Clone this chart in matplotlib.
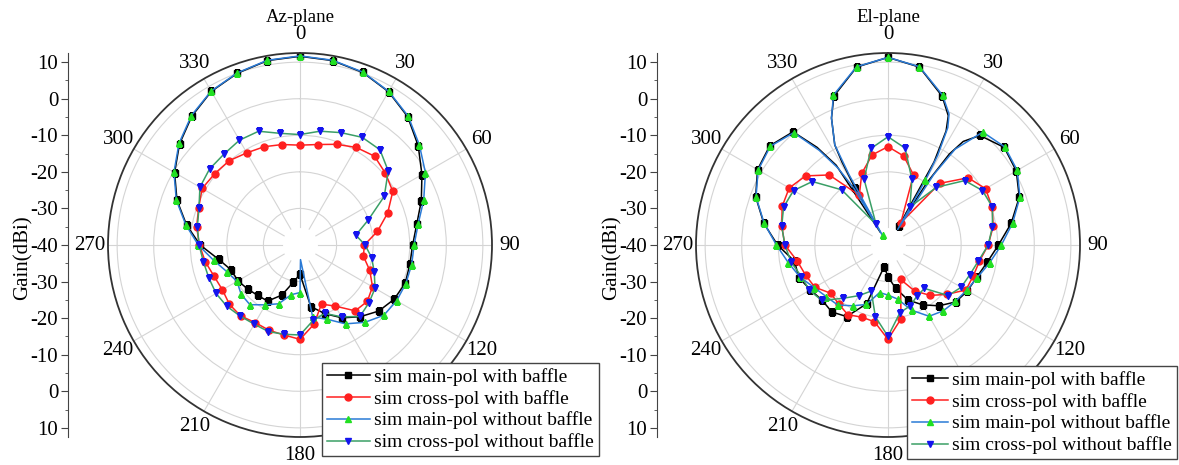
import numpy as np
import matplotlib.pyplot as plt
from matplotlib.ticker import FixedLocator, MultipleLocator

plt.rcParams['font.family'] = ['Liberation Serif', 'DejaVu Serif']

W, H = 1179, 465
ANGLES = list(range(0, 360, 10))
THETA_TICKS = list(range(0, 360, 30))
THETA_LABELS = ['0', '30', '60', '90', '120', '', '180', '210', '240', '270', '300', '330']
GAIN_TICKS = list(range(-50, 51, 10))

LABELS = ['sim main-pol with baffle', 'sim cross-pol with baffle',
          'sim main-pol without baffle', 'sim cross-pol without baffle']

# Az-plane, gain (dBi) every 10 deg, 0..350
AZ_MAIN_WITH = [11.6, 11.2, 10.2, 8.4, 5.8, 2.2, -1.5, -4.7, -7.6, -9.2,
                -9.5, -9.4, -10.3, -11.9, -14.4, -17.0, -20.0, -22.9, -32.0, -29.7,
                -25.4, -22.3, -22.0, -21.3, -20.4, -20.0, -17.4, -12.7, -8.5, -4.2,
                -0.4, 3.0, 6.0, 8.5, 10.0, 11.2]
AZ_CROSS_WITH = [-12.7, -12.1, -10.7, -9.2, -8.3, -9.5, -10.7, -14.5, -18.5, -22.4,
                 -22.4, -19.7, -17.1, -16.0, -16.5, -20.7, -22.8, -18.0, -14.2, -15.0,
                 -15.2, -15.5, -14.7, -14.8, -15.5, -15.0, -13.7, -12.5, -11.3, -10.5,
                 -9.1, -9.6, -9.9, -10.9, -11.4, -12.1]
AZ_MAIN_WITHOUT = [11.7, 11.3, 10.3, 8.5, 6.0, 2.6, -0.4, -4.0, -7.2, -8.8,
                   -9.0, -9.2, -9.5, -10.1, -12.4, -15.1, -18.4, -20.0, -27.0, -26.2,
                   -22.9, -21.1, -18.7, -19.0, -20.1, -18.7, -16.0, -12.2, -8.3, -4.0,
                   -0.2, 3.2, 6.2, 8.6, 10.1, 11.3]
AZ_MAIN_WITHOUT_EXTRA = [(178, -36.0)]
AZ_CROSS_WITHOUT = [-9.8, -8.4, -7.3, -6.0, -6.0, -8.5, -13.4, -20.2, -24.5, -22.2,
                    -20.1, -18.4, -16.3, -15.4, -14.5, -17.3, -20.1, -19.1, -15.4, -15.2,
                    -14.8, -15.0, -14.6, -13.9, -13.5, -13.5, -13.2, -12.4, -11.5, -10.6,
                    -8.4, -7.7, -7.6, -6.9, -6.9, -9.0]

# El-plane
EL_MAIN_WITH = [11.3, 9.4, 3.3, -34.0, -0.9, 1.5, 0.5, -1.8, -5.8, -9.8,
                -12.5, -14.2, -14.9, -15.8, -18.3, -21.1, -24.0, -28.0, -31.3, -34.0,
                -22.9, -17.4, -16.1, -16.5, -15.5, -14.0, -14.1, -9.8, -5.5, -1.5,
                1.2, 2.2, 0.4, -22.0, 3.3, 9.4]
EL_MAIN_WITH_EXTRA = [(25, -1.0), (27, -5.0), (29, -14.0), (32, -20.0), (34, -10.0),
                      (36, -5.0), (324, -7.0), (327, -14.0), (329, -36.0), (331, -14.0),
                      (332, -9.0), (336, -2.0)]
EL_CROSS_WITH = [-13.1, -15.3, -19.6, -33.0, -18.0, -11.4, -9.2, -9.7, -10.8, -12.6,
                 -14.6, -15.2, -15.4, -19.0, -22.0, -25.5, -30.0, -19.5, -14.2, -18.7,
                 -19.0, -18.0, -19.0, -19.5, -16.9, -16.0, -14.8, -11.8, -10.5, -9.2,
                 -8.8, -10.6, -15.0, -24.3, -19.1, -15.0]
EL_MAIN_WITHOUT = [11.3, 9.5, 3.6, -19.5, 0.3, 1.7, 0.8, -1.6, -5.4, -9.0,
                   -11.8, -14.0, -15.2, -16.0, -16.5, -17.5, -21.0, -25.0, -26.3, -26.8,
                   -22.7, -20.8, -18.6, -18.0, -16.7, -14.4, -12.3, -9.5, -5.6, -1.6,
                   1.0, 2.0, 0.1, -37.0, 3.6, 9.5]
EL_MAIN_WITHOUT_EXTRA = [(25, -0.5), (27, -4.0), (29, -12.0), (32, -35.0), (33, -17.0),
                         (35, -8.0), (324, -8.0), (327, -15.0), (329, -22.0), (331, -18.0),
                         (332, -9.0), (336, -2.0)]
EL_CROSS_WITHOUT = [-10.4, -13.1, -20.9, -28.0, -19.4, -12.6, -10.2, -9.6, -11.0, -12.6,
                    -14.9, -16.2, -16.9, -18.5, -24.5, -24.0, -22.3, -21.2, -15.0, -20.1,
                    -26.6, -24.0, -21.0, -16.4, -15.2, -14.8, -13.1, -11.8, -10.5, -9.6,
                    -10.2, -13.0, -20.3, -33.5, -20.9, -13.2]

LINE_COLORS = ['#000000', '#ff2020', '#2a7ad6', '#3a9f66']
MARK_COLORS = ['#000000', '#ff2020', '#22e022', '#1414ee']
MARKERS = ['s', 'o', '^', 'v']
FS = 15
FS_LEG = 14
R_PX = 192
CY = 245


def curve(values, extra=()):
    pts = dict(zip(ANGLES, values))
    pts.update(dict(extra))
    deg = sorted(pts)
    r = [pts[d] for d in deg]
    marks = [d in ANGLES for d in deg] + [False]
    deg.append(deg[0] + 360)
    r.append(r[0])
    return np.radians(deg), np.array(r), marks


def polar_panel(fig, cx, title, series, leg_right, leg_top, handle_len):
    rect = [(cx - R_PX) / W, (H - CY - R_PX) / H, 2 * R_PX / W, 2 * R_PX / H]
    ax = fig.add_axes(rect, projection='polar')
    ax.set_theta_zero_location('N')
    ax.set_theta_direction(-1)
    ax.set_rlim(-40, 12.5)
    ax.set_rticks([-30, -20, -10, 0, 10])
    ax.set_yticklabels([])
    ax.set_thetagrids(THETA_TICKS, THETA_LABELS, fontsize=FS)
    ax.xaxis.grid(False)
    ax.yaxis.grid(True, color='#d4d4d4', lw=0.8)
    for a in THETA_TICKS:
        ax.plot([np.radians(a)] * 2, [-35, 12.5], color='#d4d4d4', lw=0.8, zorder=0)
    ax.spines['polar'].set_color('#333333')
    ax.spines['polar'].set_linewidth(1.3)
    ax.tick_params(axis='x', pad=6, direction='in', length=4, color='#333333')
    ax.set_xticks(np.radians(ANGLES), minor=True)
    ax.tick_params(axis='x', which='minor', direction='in', length=2.5, color='#333333')

    handles = []
    for (vals, extra), lab, lc, mc, m in zip(series, LABELS, LINE_COLORS, MARK_COLORS, MARKERS):
        th, r, marks = curve(vals, extra)
        h, = ax.plot(th, r, color=lc, lw=1.1, marker=m, markersize=5,
                     markerfacecolor=mc, markeredgecolor=mc, markevery=marks, label=lab)
        handles.append(h)

    fig.text(cx / W, 1 - 17 / H, title, ha='center', va='center', fontsize=13.5)
    leg = ax.legend(handles=handles, loc='upper right',
                    bbox_to_anchor=(leg_right / W, 1 - leg_top / H),
                    bbox_transform=fig.transFigure, fontsize=FS_LEG, frameon=True,
                    fancybox=False, edgecolor='#444444', framealpha=1,
                    handlelength=handle_len, handletextpad=0.25, borderpad=0.25,
                    labelspacing=0.2, borderaxespad=0, handleheight=0.6)
    leg.get_frame().set_linewidth(1.0)
    leg.set_zorder(10)
    return ax


def gain_axis(fig, x_px):
    ax = fig.add_axes([x_px / W, (H - CY - R_PX) / H, 0.0005, 2 * R_PX / H])
    ax.set_ylim(-52.5, 52.5)
    for s in ['top', 'right', 'bottom']:
        ax.spines[s].set_visible(False)
    ax.spines['left'].set_color('#444444')
    ax.set_xticks([])
    ax.yaxis.set_major_locator(FixedLocator(GAIN_TICKS))
    ax.yaxis.set_minor_locator(MultipleLocator(5))
    ax.set_yticklabels([str(abs(v) - 40) for v in GAIN_TICKS], fontsize=FS)
    ax.tick_params(axis='y', which='major', direction='out', length=5, pad=2, color='#444444')
    ax.tick_params(axis='y', which='minor', direction='out', length=2.5, color='#444444')
    fig.text((x_px - 45) / W, 1 - 258 / H, 'Gain(dBi)', rotation=90,
             ha='center', va='center', fontsize=FS)
    return ax


fig = plt.figure(figsize=(W / 100, H / 100), dpi=100)

polar_panel(fig, 300, 'Az-plane', [
    (AZ_MAIN_WITH, ()), (AZ_CROSS_WITH, ()),
    (AZ_MAIN_WITHOUT, AZ_MAIN_WITHOUT_EXTRA), (AZ_CROSS_WITHOUT, ())], 599, 363, 2.2)
polar_panel(fig, 888, 'El-plane', [
    (EL_MAIN_WITH, EL_MAIN_WITH_EXTRA), (EL_CROSS_WITH, ()),
    (EL_MAIN_WITHOUT, EL_MAIN_WITHOUT_EXTRA), (EL_CROSS_WITHOUT, ())], 1177, 366, 1.85)

for x in (68, 657):
    gain_axis(fig, x)

fig.savefig('out.png', dpi=100)
